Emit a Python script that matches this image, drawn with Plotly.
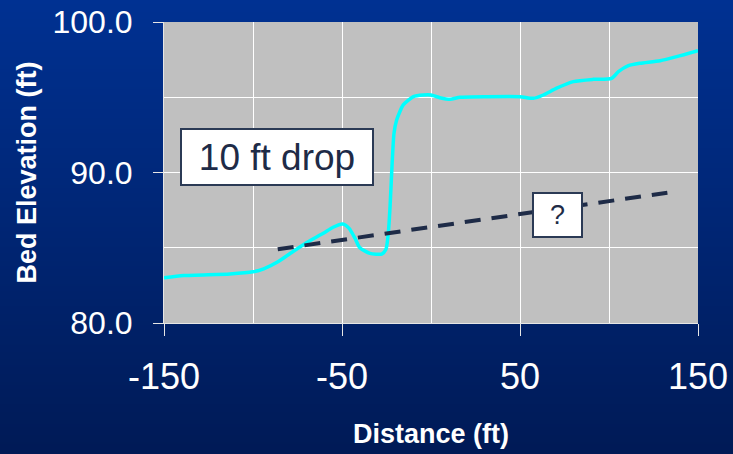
import base64
import struct
import zlib

import plotly.graph_objects as go

# Surveyed bed profile (distance along channel, ft -> bed elevation, ft)
distance_ft = [-150, -139, -113, -100, -94, -86, -79, -70, -60.5, -55, -49.6, -46,
               -42.7, -40, -34.3, -27.7, -25.3, -24, -23, -22.1, -20.8, -19.3,
               -15.6, -9.9, -4.3, 0, 5, 10.7, 16.3, 31.3, 50, 57.5, 63.1, 70.6,
               80, 91.2, 101.5, 105.3, 110.9, 117.4, 128.7, 138, 150]
bed_elev_ft = [83.0, 83.15, 83.26, 83.4, 83.6, 84.07, 84.63, 85.34, 85.96, 86.36,
               86.58, 86.29, 85.63, 85.0, 84.63, 84.58, 84.9, 85.96, 87.73, 89.95,
               92.6, 93.49, 94.49, 95.04, 95.15, 95.15, 94.97, 94.86, 95.0, 95.04,
               95.04, 94.93, 95.15, 95.6, 96.04, 96.19, 96.26, 96.7, 97.1, 97.26,
               97.43, 97.7, 98.1]

# Hypothetical future bed line after the drop
future_x = [-86.1, 132.8]
future_y = [84.9, 88.66]

x_tick_vals = [-150, -50, 50, 150]
y_tick_vals = [80, 90, 100]

W, H = 733, 454
ML, MR, MT, MB = 164, 35, 22, 131


def gradient_png(height, top, bottom):
    """1-pixel-wide vertical gradient encoded as a PNG data URI."""
    raw = b""
    for r in range(height):
        t = r / (height - 1)
        px = bytes(int(round(a + (b - a) * t)) for a, b in zip(top, bottom))
        raw += b"\x00" + px
    def chunk(tag, data):
        c = struct.pack(">I", len(data)) + tag + data
        return c + struct.pack(">I", zlib.crc32(tag + data) & 0xFFFFFFFF)
    png = b"\x89PNG\r\n\x1a\n"
    png += chunk(b"IHDR", struct.pack(">IIBBBBB", 1, height, 8, 2, 0, 0, 0))
    png += chunk(b"IDAT", zlib.compress(raw))
    png += chunk(b"IEND", b"")
    return "data:image/png;base64," + base64.b64encode(png).decode()


bg = gradient_png(H, (0, 49, 146), (0, 26, 86))

fig = go.Figure()
fig.add_trace(go.Scatter(
    x=distance_ft, y=bed_elev_ft, mode="lines",
    line=dict(color="#00FFFF", width=3.5, shape="spline", smoothing=0.6),
    showlegend=False, hoverinfo="skip"))
fig.add_trace(go.Scatter(
    x=future_x, y=future_y, mode="lines",
    line=dict(color="#1E2B47", width=4, dash="16px,11px"),
    showlegend=False, hoverinfo="skip"))

pw, ph = W - ML - MR, H - MT - MB
fig.add_layout_image(dict(
    source=bg, xref="paper", yref="paper",
    x=-ML / pw, y=1 + MT / ph, sizex=W / pw, sizey=H / ph,
    xanchor="left", yanchor="top", sizing="stretch", layer="below"))
fig.add_shape(type="rect", xref="x", yref="y", x0=-150, x1=150, y0=80, y1=100,
              fillcolor="#C0C0C0", line=dict(width=0), layer="below")

fig.add_annotation(x=-86.5, y=91.03, text="10 ft drop", showarrow=False,
                   font=dict(family="Arial, Liberation Sans", size=37, color="#1E2B47"),
                   bgcolor="white", bordercolor="#2B3A55", borderwidth=2,
                   borderpad=2, width=186, height=50)
fig.add_annotation(x=70.8, y=87.2, text="?", showarrow=False,
                   font=dict(family="Arial, Liberation Sans", size=27, color="#1E2B47"),
                   bgcolor="white", bordercolor="#2B3A55", borderwidth=2,
                   borderpad=2, width=43, height=38)

font = "Arial, Liberation Sans"
fig.update_layout(
    width=W, height=H,
    margin=dict(l=ML, r=MR, t=MT, b=MB, autoexpand=False),
    paper_bgcolor="#001A56", plot_bgcolor="#C0C0C0",
    xaxis=dict(
        range=[-150, 150], tickvals=x_tick_vals, ticktext=[str(v) for v in x_tick_vals],
        ticks="outside", ticklen=12, tickcolor="#E6E6E6", tickwidth=1,
        showgrid=True, gridcolor="white", gridwidth=1,
        minor=dict(dtick=50, tick0=0, showgrid=True, gridcolor="white", gridwidth=1, ticks=""),
        showline=True, linecolor="#E6E6E6", linewidth=1,
        zeroline=False, ticklabelstandoff=10,
        tickfont=dict(family=font, size=36, color="white"),
        title=dict(text="Distance (ft)", standoff=27,
                   font=dict(family=font, size=27, color="white", weight="bold")),
        automargin=False),
    yaxis=dict(
        range=[80, 100], tickvals=y_tick_vals, ticktext=[f"{v:.1f}" for v in y_tick_vals],
        ticks="outside", ticklen=10, tickcolor="#E6E6E6", tickwidth=1,
        showgrid=True, gridcolor="white", gridwidth=1,
        minor=dict(dtick=5, tick0=80, showgrid=True, gridcolor="white", gridwidth=1, ticks=""),
        showline=True, linecolor="#E6E6E6", linewidth=1,
        zeroline=False, ticklabelstandoff=14,
        tickfont=dict(family=font, size=32, color="white"),
        title=dict(text="Bed Elevation (ft)", standoff=8,
                   font=dict(family=font, size=27, color="white", weight="bold")),
        automargin=False),
)

fig.write_html("out.html")
